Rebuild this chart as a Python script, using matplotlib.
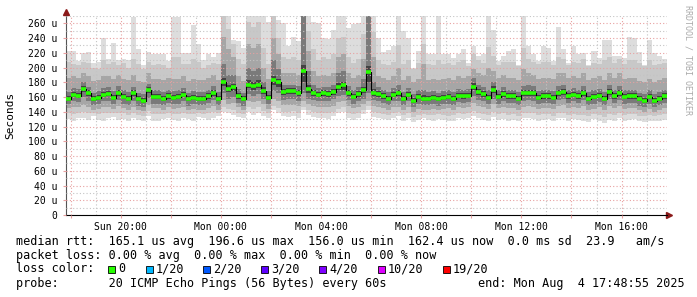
from datetime import datetime, timedelta

import matplotlib
matplotlib.use("Agg")
import matplotlib.pyplot as plt
import matplotlib.dates as mdates
import matplotlib.ticker as mticker
from matplotlib.patches import Rectangle
import numpy as np

# 120 bins of 12 minutes, values in microseconds
median_rtt = [
    158, 163, 162, 171, 165, 157, 159, 163, 164, 159, 166, 160, 158, 165, 157, 155, 169, 160, 160, 158, 161, 159, 160, 163,
    157, 159, 158, 158, 161, 166, 158, 180, 171, 173, 161, 157, 177, 175, 177, 168, 159, 183, 180, 167, 168, 168, 166, 195,
    171, 166, 163, 165, 164, 167, 174, 176, 166, 160, 164, 169, 194, 166, 164, 161, 158, 163, 165, 158, 163, 155, 160, 158,
    158, 159, 157, 159, 160, 158, 162, 161, 162, 174, 167, 164, 159, 170, 160, 164, 161, 161, 158, 165, 166, 165, 159, 161,
    161, 159, 166, 167, 161, 163, 161, 166, 158, 160, 162, 158, 167, 161, 166, 160, 161, 161, 157, 155, 160, 155, 158, 161,
]
ping_max = [
    223, 223, 209, 220, 221, 206, 207, 240, 211, 233, 210, 211, 210, 269, 225, 203, 221, 218, 218, 218, 209, 269, 269, 220,
    220, 258, 232, 210, 218, 215, 220, 270, 270, 238, 236, 226, 270, 270, 270, 270, 262, 270, 265, 260, 229, 242, 236, 270,
    270, 262, 260, 240, 239, 251, 270, 270, 254, 259, 260, 270, 270, 270, 240, 221, 224, 229, 270, 249, 240, 200, 222, 270,
    218, 218, 270, 218, 218, 213, 218, 225, 206, 229, 216, 218, 270, 251, 209, 216, 222, 225, 204, 270, 229, 218, 209, 229,
    227, 209, 255, 225, 206, 229, 218, 220, 204, 222, 213, 237, 237, 216, 216, 213, 241, 240, 221, 204, 237, 220, 216, 211,
]
ping_hi2 = [
    207, 205, 203, 208, 206, 200, 198, 210, 205, 208, 204, 206, 200, 212, 205, 198, 207, 204, 205, 203, 200, 214, 214, 205,
    205, 212, 208, 200, 204, 206, 205, 270, 252, 232, 212, 205, 262, 255, 262, 226, 205, 270, 240, 215, 212, 214, 210, 270,
    250, 225, 210, 214, 212, 218, 240, 242, 214, 206, 212, 245, 270, 248, 210, 205, 204, 208, 230, 205, 210, 198, 206, 232,
    205, 204, 210, 205, 206, 203, 208, 210, 202, 218, 210, 206, 228, 216, 204, 208, 207, 208, 202, 226, 212, 208, 205, 208,
    208, 204, 214, 212, 204, 208, 206, 212, 202, 206, 205, 210, 214, 206, 212, 205, 210, 210, 206, 202, 210, 204, 205, 206,
]
ping_hi3 = [
    186, 188, 186, 192, 188, 182, 183, 188, 188, 184, 190, 185, 183, 190, 182, 180, 192, 185, 185, 183, 186, 184, 185, 188,
    182, 185, 183, 183, 186, 190, 183, 242, 225, 215, 188, 182, 232, 226, 232, 200, 184, 240, 218, 192, 192, 192, 190, 270,
    222, 195, 188, 190, 189, 193, 215, 218, 192, 186, 190, 212, 270, 215, 189, 186, 183, 188, 200, 183, 188, 180, 185, 205,
    183, 185, 183, 185, 186, 183, 188, 186, 188, 198, 192, 190, 200, 195, 186, 190, 186, 186, 183, 198, 192, 190, 185, 186,
    186, 185, 192, 193, 186, 189, 186, 192, 183, 186, 188, 183, 192, 186, 192, 185, 186, 186, 182, 180, 185, 180, 183, 186,
]
ping_hi4 = [
    167, 172, 171, 181, 174, 166, 168, 172, 173, 168, 175, 169, 167, 174, 166, 164, 178, 169, 169, 167, 170, 168, 169, 172,
    166, 168, 167, 167, 170, 175, 167, 205, 190, 190, 171, 166, 200, 195, 200, 180, 168, 210, 198, 177, 177, 177, 175, 270,
    195, 176, 172, 174, 173, 176, 192, 195, 175, 169, 173, 185, 270, 180, 173, 170, 167, 172, 176, 167, 172, 164, 169, 170,
    167, 168, 166, 168, 169, 167, 171, 170, 171, 186, 176, 173, 170, 181, 169, 173, 170, 170, 167, 175, 176, 175, 168, 170,
    170, 168, 175, 176, 170, 172, 170, 175, 167, 169, 171, 167, 176, 170, 175, 169, 170, 170, 166, 164, 169, 164, 167, 170,
]
core_hi = [
    162, 167, 166, 175, 169, 161, 163, 167, 168, 163, 170, 164, 162, 169, 161, 159, 173, 164, 164, 162, 165, 163, 164, 167,
    161, 163, 162, 162, 165, 170, 162, 186, 176, 178, 165, 161, 183, 180, 183, 173, 163, 189, 185, 171, 172, 172, 170, 203,
    176, 170, 167, 169, 168, 171, 179, 181, 170, 164, 168, 174, 202, 171, 168, 165, 162, 167, 170, 162, 167, 159, 164, 163,
    162, 163, 161, 163, 164, 162, 166, 165, 166, 179, 171, 168, 163, 175, 164, 168, 165, 165, 162, 170, 170, 169, 163, 165,
    165, 163, 170, 171, 165, 167, 165, 170, 162, 164, 166, 162, 171, 165, 170, 164, 165, 165, 161, 159, 164, 159, 162, 165,
]
core_lo = [
    155, 160, 159, 167, 161, 154, 156, 160, 161, 156, 162, 157, 155, 162, 154, 152, 165, 157, 157, 155, 158, 156, 157, 160,
    154, 156, 155, 155, 158, 162, 155, 175, 167, 168, 158, 154, 172, 170, 172, 164, 156, 176, 174, 163, 164, 164, 162, 180,
    166, 162, 160, 161, 160, 163, 169, 170, 162, 157, 160, 165, 180, 162, 160, 158, 155, 160, 161, 155, 160, 152, 157, 155,
    155, 156, 154, 156, 157, 155, 159, 158, 159, 169, 163, 160, 156, 166, 157, 160, 158, 158, 155, 161, 162, 161, 156, 158,
    158, 156, 162, 163, 158, 160, 158, 162, 155, 157, 159, 155, 163, 158, 162, 157, 158, 158, 154, 152, 157, 152, 155, 158,
]
ping_lo4 = [
    150, 154, 153, 160, 155, 149, 150, 154, 155, 150, 156, 151, 149, 155, 148, 147, 159, 151, 151, 149, 152, 150, 151, 154,
    148, 150, 149, 149, 152, 156, 149, 165, 158, 160, 152, 148, 164, 162, 164, 157, 150, 168, 165, 156, 157, 157, 155, 165,
    158, 156, 154, 155, 154, 157, 162, 163, 156, 151, 154, 158, 165, 156, 154, 152, 149, 154, 155, 149, 154, 146, 151, 149,
    149, 150, 148, 150, 151, 149, 153, 152, 153, 161, 156, 154, 150, 158, 151, 154, 152, 152, 149, 155, 156, 155, 150, 152,
    152, 150, 156, 157, 152, 154, 152, 156, 149, 151, 153, 149, 157, 152, 156, 151, 152, 152, 148, 146, 151, 146, 149, 152,
]
ping_lo3 = [
    145, 146, 146, 149, 147, 143, 144, 146, 147, 144, 148, 145, 143, 147, 142, 141, 149, 145, 145, 143, 146, 144, 145, 147,
    143, 144, 143, 143, 145, 148, 143, 156, 151, 152, 146, 143, 155, 153, 155, 150, 144, 158, 155, 149, 149, 149, 148, 154,
    150, 148, 146, 147, 146, 148, 153, 154, 148, 145, 147, 150, 155, 148, 146, 145, 143, 146, 147, 143, 146, 140, 144, 143,
    143, 144, 142, 144, 145, 143, 146, 145, 146, 152, 148, 147, 144, 150, 145, 147, 145, 145, 143, 147, 148, 147, 144, 145,
    145, 144, 148, 149, 145, 146, 145, 148, 143, 144, 146, 142, 148, 145, 148, 144, 145, 145, 142, 140, 144, 140, 143, 145,
]
ping_lo2 = [
    138, 137, 139, 140, 138, 138, 137, 138, 139, 139, 138, 138, 136, 139, 136, 135, 141, 137, 137, 137, 139, 137, 137, 139,
    137, 137, 138, 137, 138, 140, 139, 146, 144, 143, 139, 137, 146, 144, 146, 141, 138, 148, 145, 140, 140, 141, 139, 147,
    143, 140, 138, 139, 138, 140, 144, 146, 139, 137, 139, 142, 148, 140, 138, 137, 136, 138, 140, 136, 138, 133, 136, 137,
    136, 136, 137, 136, 135, 136, 138, 137, 138, 141, 138, 137, 136, 140, 137, 138, 136, 137, 135, 138, 139, 138, 136, 137,
    137, 135, 139, 139, 136, 137, 136, 136, 134, 137, 136, 133, 137, 136, 138, 136, 137, 137, 135, 134, 136, 134, 136, 137,
]
ping_min = [
    130, 128, 131, 132, 129, 134, 129, 128, 131, 133, 129, 130, 127, 131, 129, 128, 134, 128, 127, 130, 132, 129, 128, 131,
    130, 128, 133, 131, 129, 132, 134, 140, 138, 136, 133, 131, 140, 136, 139, 134, 131, 142, 138, 134, 133, 135, 131, 142,
    136, 133, 131, 132, 130, 134, 138, 140, 131, 129, 132, 137, 142, 133, 131, 130, 129, 131, 134, 128, 131, 126, 129, 131,
    129, 128, 130, 129, 127, 128, 131, 130, 131, 134, 131, 129, 128, 133, 129, 130, 128, 129, 127, 131, 132, 130, 128, 129,
    130, 127, 132, 131, 128, 130, 129, 127, 126, 130, 128, 125, 129, 128, 131, 128, 129, 130, 127, 126, 128, 127, 128, 129,
]

loss_labels = ["0", "1/20", "2/20", "3/20", "4/20", "10/20", "19/20"]
loss_colors = ["#26ff00", "#00b8ff", "#0059ff", "#5e00ff", "#7e00ff", "#dd00ff", "#ff0000"]
loss_box_x = [108, 146, 203, 261, 319, 378, 443]

W, H = 697, 297
mono = "DejaVu Sans Mono"
plt.rcParams["font.family"] = mono

end = datetime(2025, 8, 4, 17, 48, 55)
start = end - timedelta(hours=24)
first_bin = datetime(2025, 8, 3, 17, 48)
edges = mdates.date2num([first_bin + timedelta(minutes=12 * k) for k in range(len(median_rtt) + 1)])
left = edges[:-1]
width = edges[1] - edges[0]

fig = plt.figure(figsize=(W / 100, H / 100), dpi=100, facecolor="white")
ax = fig.add_axes([66 / W, 82 / H, 601 / W, 199 / H])

# smoke, outer (light) to inner (dark)
layers = [
    (ping_min, ping_max, "#dddddd"),
    (ping_lo2, ping_hi2, "#c8c8c8"),
    (ping_lo3, ping_hi3, "#a6a6a6"),
    (ping_lo4, ping_hi4, "#7a7a7a"),
    (core_lo, core_hi, "#424242"),
]
for lo, hi, c in layers:
    lo = np.array(lo, float)
    hi = np.array(hi, float)
    ax.bar(left, hi - lo, bottom=lo, width=width, align="edge", color=c,
           linewidth=0, antialiased=False, zorder=1)

med = np.array(median_rtt, float)
ax.step(edges, np.append(med, med[-1]), where="post", color="black", lw=0.8, zorder=3)
ax.hlines(med, edges[:-1], edges[1:], color="#26ff00", lw=2.6, zorder=4)

ax.set_xlim(mdates.date2num(start), mdates.date2num(end))
ax.set_ylim(0, 270)

ax.xaxis.set_major_locator(mdates.HourLocator(byhour=range(0, 24, 2)))
ax.xaxis.set_minor_locator(mdates.HourLocator())


def fmt_time(x, pos):
    d = mdates.num2date(x)
    return d.strftime("%a %H:%M") if d.hour % 4 == 0 else ""


ax.xaxis.set_major_formatter(mticker.FuncFormatter(fmt_time))
ax.yaxis.set_major_locator(mticker.MultipleLocator(20))
ax.yaxis.set_minor_locator(mticker.MultipleLocator(10))
ax.yaxis.set_major_formatter(mticker.FuncFormatter(lambda v, p: "0" if v == 0 else f"{int(v)} u"))

ax.set_axisbelow(False)
ax.grid(which="major", color="#e8a0a0", linestyle=(0, (1, 2)), lw=0.8)
ax.grid(which="minor", color="#c4c4c4", linestyle=(0, (1, 2)), lw=0.8)

ax.tick_params(axis="both", which="major", labelsize=7, length=2, color="#e8a0a0", pad=3)
ax.tick_params(axis="both", which="minor", length=0)
ax.tick_params(axis="y", pad=4)

for s in ("top", "right"):
    ax.spines[s].set_visible(False)
ax.spines["left"].set_color("#555555")
ax.spines["bottom"].set_color("black")

ax.plot([0], [1.02], marker="^", color="#8b1a1a", ms=4, transform=ax.transAxes, clip_on=False)
ax.plot([1.004], [0], marker=">", color="#8b1a1a", ms=4, transform=ax.transAxes, clip_on=False)

fig.text(10 / W, 1 - 115 / H, "Seconds", rotation=90, ha="center", va="center", fontsize=8)
fig.text(688 / W, 1 - 5 / H, "RRDTOOL / TOBI OETIKER", rotation=270, ha="center", va="top",
         fontsize=6, color="#aaaaaa")

fs = 8.5
x0 = 16 / W
fig.text(x0, 1 - 241 / H,
         "median rtt:  165.1 us avg  196.6 us max  156.0 us min  162.4 us now  0.0 ms sd  23.9   am/s",
         fontsize=fs, va="center")
fig.text(x0, 1 - 255 / H, "packet loss: 0.00 % avg  0.00 % max  0.00 % min  0.00 % now",
         fontsize=fs, va="center")
fig.text(x0, 1 - 269 / H, "loss color:", fontsize=fs, va="center")
for lab, col, bx in zip(loss_labels, loss_colors, loss_box_x):
    fig.patches.append(Rectangle((bx / W, 1 - 272.5 / H), 7 / W, 7 / H, transform=fig.transFigure,
                                 facecolor=col, edgecolor="black", lw=0.6))
    fig.text((bx + 10) / W, 1 - 269 / H, lab, fontsize=fs, va="center")
fig.text(x0, 1 - 283 / H, "probe:       20 ICMP Echo Pings (56 Bytes) every 60s", fontsize=fs, va="center")
fig.text(478 / W, 1 - 283 / H, "end: Mon Aug  4 17:48:55 2025", fontsize=fs, va="center")

fig.savefig("out.png", dpi=100, facecolor="white")
